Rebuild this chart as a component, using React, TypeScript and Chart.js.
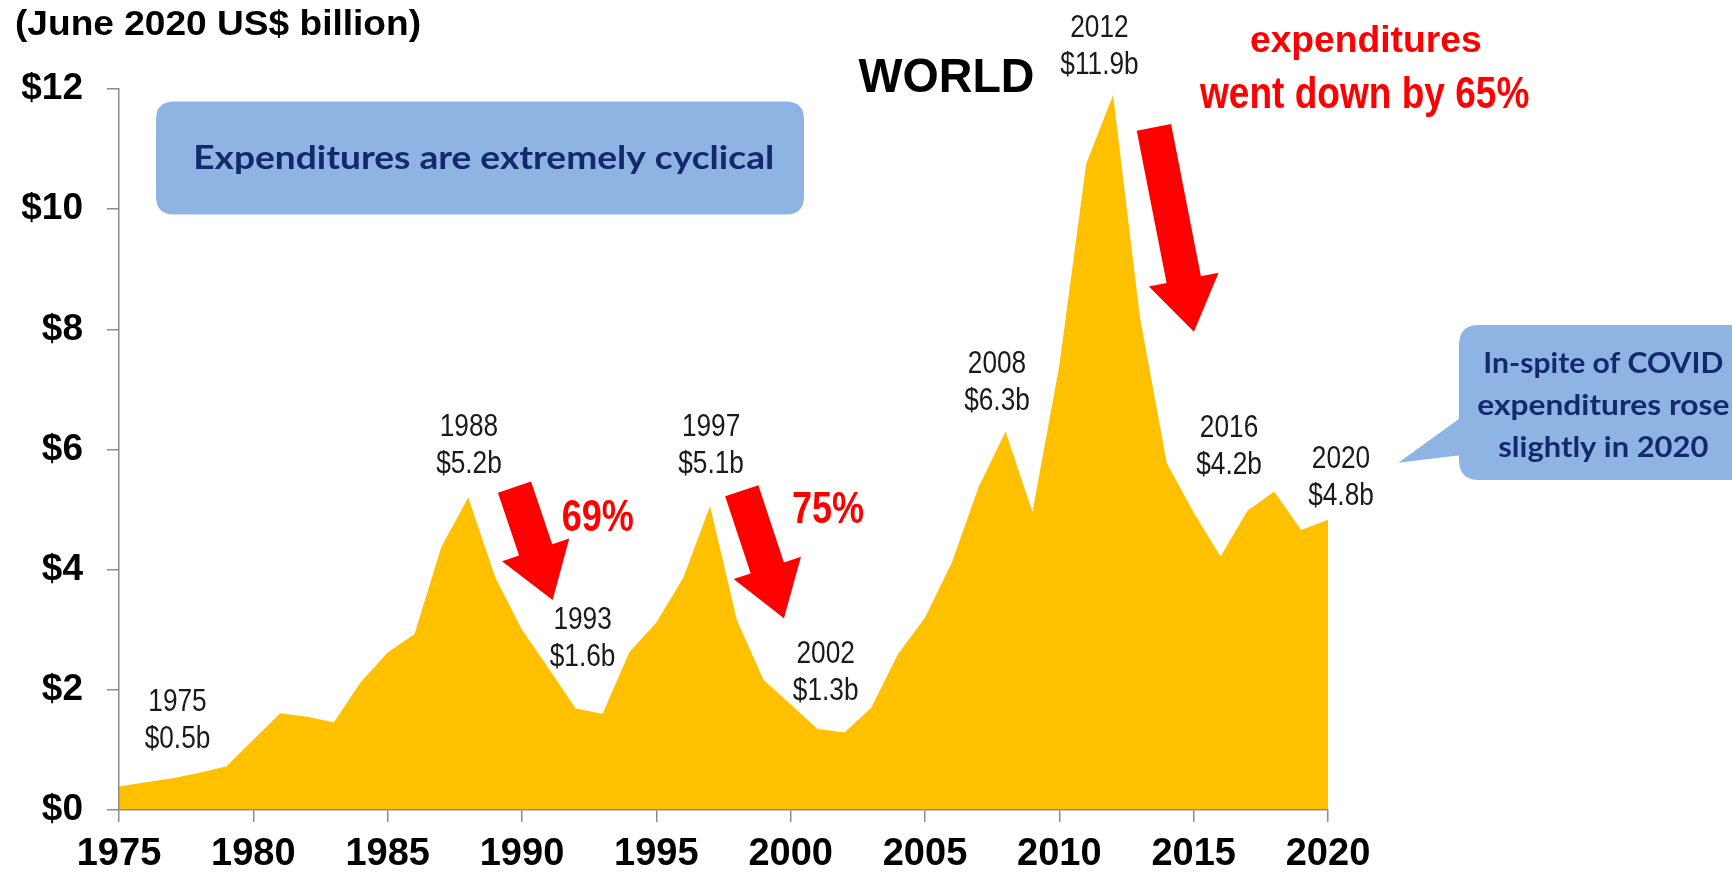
import React, { useEffect, useRef } from "react";
import { Chart, registerables } from "chart.js";

Chart.register(...registerables);

// ---------- DATA ----------
const years: number[] = [
  1975, 1976, 1977, 1978, 1979, 1980, 1981, 1982, 1983, 1984,
  1985, 1986, 1987, 1988, 1989, 1990, 1991, 1992, 1993, 1994,
  1995, 1996, 1997, 1998, 1999, 2000, 2001, 2002, 2003, 2004,
  2005, 2006, 2007, 2008, 2009, 2010, 2011, 2012, 2013, 2014,
  2015, 2016, 2017, 2018, 2019, 2020,
];
const expenditures: number[] = [
  0.39, 0.46, 0.53, 0.62, 0.73, 1.17, 1.61, 1.55, 1.46, 2.13,
  2.62, 2.93, 4.38, 5.2, 3.88, 3.0, 2.35, 1.69, 1.6, 2.63,
  3.12, 3.86, 5.06, 3.16, 2.16, 1.76, 1.35, 1.29, 1.7, 2.6,
  3.2, 4.12, 5.38, 6.3, 4.96, 7.4, 10.75, 11.9, 8.2, 5.77,
  4.95, 4.22, 4.98, 5.3, 4.66, 4.83,
];
const yTickValues: number[] = [0, 2, 4, 6, 8, 10, 12];
const xTickValues: number[] = [1975, 1980, 1985, 1990, 1995, 2000, 2005, 2010, 2015, 2020];

const labelYears: number[] = [1975, 1988, 1993, 1997, 2002, 2008, 2012, 2016, 2020];
const labelValues: string[] = ["$0.5b", "$5.2b", "$1.6b", "$5.1b", "$1.3b", "$6.3b", "$11.9b", "$4.2b", "$4.8b"];

const axisTitle = "(June 2020 US$ billion)";
const regionTitle = "WORLD";
const box1Text = "Expenditures are extremely cyclical";
const box2Lines: string[] = ["In-spite of COVID", "expenditures rose", "slightly in 2020"];
const redHeadline: string[] = ["Between 2012 and 2016", "expenditures", "went down by 65%"];
const dropLabels: string[] = ["69%", "75%"];

// ---------- STYLE / LAYOUT (annotation placement) ----------
const ARIAL = "'Liberation Sans', Arial, Helvetica, sans-serif";
const CALIBRI = "Lato, 'Open Sans', 'Noto Sans', sans-serif";
const GOLD = "#FFC000";
const AXIS = "#8c8c8c";
const BOX = "#8EB4E3";
const NAVY = "#12296B";
const RED = "#FF0000";

// pixel offsets of the value labels relative to their data point (second line baseline)
const labelOffsets: [number, number][] = [
  [58.5, -38.6], [0.7, -24.6], [-20, -47.9], [1, -33], [-18.7, -32.5],
  [-8.6, -21.5], [-13.6, -21], [8.5, -82.5], [13, -14.8],
];
// arrows in data coordinates: [tailYear, tailValue, tipYear, tipValue]
const arrows: [number, number, number, number][] = [
  [1989.72, 5.373, 1991.14, 3.495],
  [1998.18, 5.313, 1999.75, 3.191],
  [2013.52, 11.363, 2015.01, 7.961],
];
// drop percentages in data coordinates (center, baseline)
const dropPos: [number, number][] = [
  [1992.82, 4.644],
  [2001.39, 4.777],
];

function drawText(
  ctx: CanvasRenderingContext2D,
  text: string,
  x: number,
  y: number,
  font: string,
  color: string,
  opts: { width?: number; sx?: number; align?: "left" | "center" | "right" } = {}
) {
  ctx.save();
  ctx.font = font;
  ctx.fillStyle = color;
  ctx.textBaseline = "alphabetic";
  ctx.textAlign = "left";
  const w = ctx.measureText(text).width;
  const sx = opts.width ? opts.width / w : opts.sx ?? 1;
  const align = opts.align ?? "center";
  const tw = w * sx;
  const left = align === "center" ? x - tw / 2 : align === "right" ? x - tw : x;
  ctx.translate(left, y);
  ctx.scale(sx, 1);
  ctx.fillText(text, 0, 0);
  ctx.restore();
}

function roundRect(ctx: CanvasRenderingContext2D, x: number, y: number, w: number, h: number, r: number) {
  ctx.beginPath();
  ctx.moveTo(x + r, y);
  ctx.lineTo(x + w - r, y);
  ctx.quadraticCurveTo(x + w, y, x + w, y + r);
  ctx.lineTo(x + w, y + h - r);
  ctx.quadraticCurveTo(x + w, y + h, x + w - r, y + h);
  ctx.lineTo(x + r, y + h);
  ctx.quadraticCurveTo(x, y + h, x, y + h - r);
  ctx.lineTo(x, y + r);
  ctx.quadraticCurveTo(x, y, x + r, y);
  ctx.closePath();
}

function drawArrow(ctx: CanvasRenderingContext2D, tx: number, ty: number, px: number, py: number) {
  const sw = 35, hw = 71, hl = 53;
  const dx = px - tx, dy = py - ty;
  const len = Math.hypot(dx, dy);
  const ux = dx / len, uy = dy / len;
  const nx = -uy, ny = ux;
  const hx = px - ux * hl, hy = py - uy * hl;
  ctx.save();
  ctx.fillStyle = RED;
  ctx.beginPath();
  ctx.moveTo(tx + nx * sw / 2, ty + ny * sw / 2);
  ctx.lineTo(hx + nx * sw / 2, hy + ny * sw / 2);
  ctx.lineTo(hx + nx * hw / 2, hy + ny * hw / 2);
  ctx.lineTo(px, py);
  ctx.lineTo(hx - nx * hw / 2, hy - ny * hw / 2);
  ctx.lineTo(hx - nx * sw / 2, hy - ny * sw / 2);
  ctx.lineTo(tx - nx * sw / 2, ty - ny * sw / 2);
  ctx.closePath();
  ctx.fill();
  ctx.restore();
}

const annotationPlugin = {
  id: "annotations",
  afterDraw(chart: any) {
    const ctx: CanvasRenderingContext2D = chart.ctx;
    const xs = chart.scales.x;
    const ys = chart.scales.y;

    // axis title
    drawText(ctx, axisTitle, 15, 35, `bold 35px ${ARIAL}`, "#000", { width: 406, align: "left" });

    // WORLD
    drawText(ctx, regionTitle, 946.5, 92, `bold 48px ${ARIAL}`, "#000", { width: 176 });

    // box 1
    ctx.save();
    ctx.fillStyle = BOX;
    roundRect(ctx, 156, 101.5, 648, 113, 18);
    ctx.fill();
    ctx.restore();
    drawText(ctx, box1Text, 483.7, 169, `bold 33px ${CALIBRI}`, NAVY, { width: 581 });

    // box 2 (speech bubble, clipped at the right edge)
    ctx.save();
    ctx.fillStyle = BOX;
    roundRect(ctx, 1459, 325, 320, 155, 20);
    ctx.fill();
    ctx.beginPath();
    ctx.moveTo(1462, 416.7);
    ctx.lineTo(1398.3, 462.7);
    ctx.lineTo(1462, 455);
    ctx.closePath();
    ctx.fill();
    ctx.restore();
    const b2w = [240, 252, 210];
    const b2y = [373.3, 415, 456.7];
    box2Lines.forEach((t, i) =>
      drawText(ctx, t, 1603.3, b2y[i], `bold 28px ${CALIBRI}`, NAVY, { width: b2w[i] })
    );

    // red headline (top line cut off by the frame)
    drawText(ctx, redHeadline[0], 1381, -2, `bold 36px ${ARIAL}`, RED, { width: 272 });
    drawText(ctx, redHeadline[1], 1365.8, 51.7, `bold 36px ${ARIAL}`, RED, { width: 231.7 });
    drawText(ctx, redHeadline[2], 1364.7, 107.7, `bold 44px ${ARIAL}`, RED, { width: 329.3 });

    // arrows
    arrows.forEach(([ty, tv, py, pv]) =>
      drawArrow(ctx, xs.getPixelForValue(ty), ys.getPixelForValue(tv), xs.getPixelForValue(py), ys.getPixelForValue(pv))
    );
    dropLabels.forEach((t, i) =>
      drawText(ctx, t, xs.getPixelForValue(dropPos[i][0]), ys.getPixelForValue(dropPos[i][1]), `bold 44px ${ARIAL}`, RED, { sx: 0.82 })
    );

    // value labels
    labelYears.forEach((yr, i) => {
      const idx = years.indexOf(yr);
      const px = xs.getPixelForValue(yr) + labelOffsets[i][0];
      const py = ys.getPixelForValue(expenditures[idx]) + labelOffsets[i][1];
      drawText(ctx, String(yr), px, py - 37, `32px ${ARIAL}`, "#1a1a1a", { sx: 0.82 });
      drawText(ctx, labelValues[i], px, py, `32px ${ARIAL}`, "#1a1a1a", { sx: 0.82 });
    });
  },
};

export default function App() {
  const canvasRef = useRef<HTMLCanvasElement | null>(null);

  useEffect(() => {
    if (!canvasRef.current) return;
    const chart = new Chart(canvasRef.current, {
      type: "line",
      data: {
        datasets: [
          {
            data: years.map((y, i) => ({ x: y, y: expenditures[i] })),
            backgroundColor: GOLD,
            borderColor: GOLD,
            borderWidth: 0,
            fill: "origin",
            pointRadius: 0,
            tension: 0,
          },
        ],
      },
      options: {
        animation: false,
        responsive: false,
        devicePixelRatio: 1,
        layout: { padding: { left: 0, right: 404, top: 89, bottom: 0 } },
        plugins: { legend: { display: false }, tooltip: { enabled: false }, title: { display: false } },
        scales: {
          x: {
            type: "linear",
            min: 1975,
            max: 2020,
            afterBuildTicks: (s: any) => {
              s.ticks = xTickValues.map((v) => ({ value: v }));
            },
            ticks: {
              callback: (v: any) => String(v),
              font: { family: ARIAL, size: 38, weight: "bold" },
              color: "#000",
              padding: 10,
              maxRotation: 0,
              autoSkip: false,
            },
            grid: { display: true, drawOnChartArea: false, drawTicks: true, tickLength: 12, color: AXIS, lineWidth: 1.5 },
            border: { display: true, color: AXIS, width: 1.5, z: 1 },
            afterFit: (s: any) => {
              s.height = 64;
            },
          },
          y: {
            min: 0,
            max: 12,
            afterBuildTicks: (s: any) => {
              s.ticks = yTickValues.map((v) => ({ value: v }));
            },
            ticks: {
              callback: (v: any) => "$" + v,
              font: { family: ARIAL, size: 37, weight: "bold" },
              color: "#000",
              padding: 24,
            },
            grid: { display: true, drawOnChartArea: false, drawTicks: true, tickLength: 12, color: AXIS, lineWidth: 1.5 },
            border: { display: true, color: AXIS, width: 1.5, z: 1 },
            afterFit: (s: any) => {
              s.width = 119;
            },
          },
        },
      },
      plugins: [annotationPlugin],
    } as any);
    return () => chart.destroy();
  }, []);

  return (
    <div style={{ position: "fixed", left: 0, top: 0, width: 1732, height: 874, background: "#fff", overflow: "hidden" }}>
      <canvas ref={canvasRef} width={1732} height={874} style={{ display: "block", width: 1732, height: 874 }} />
    </div>
  );
}
